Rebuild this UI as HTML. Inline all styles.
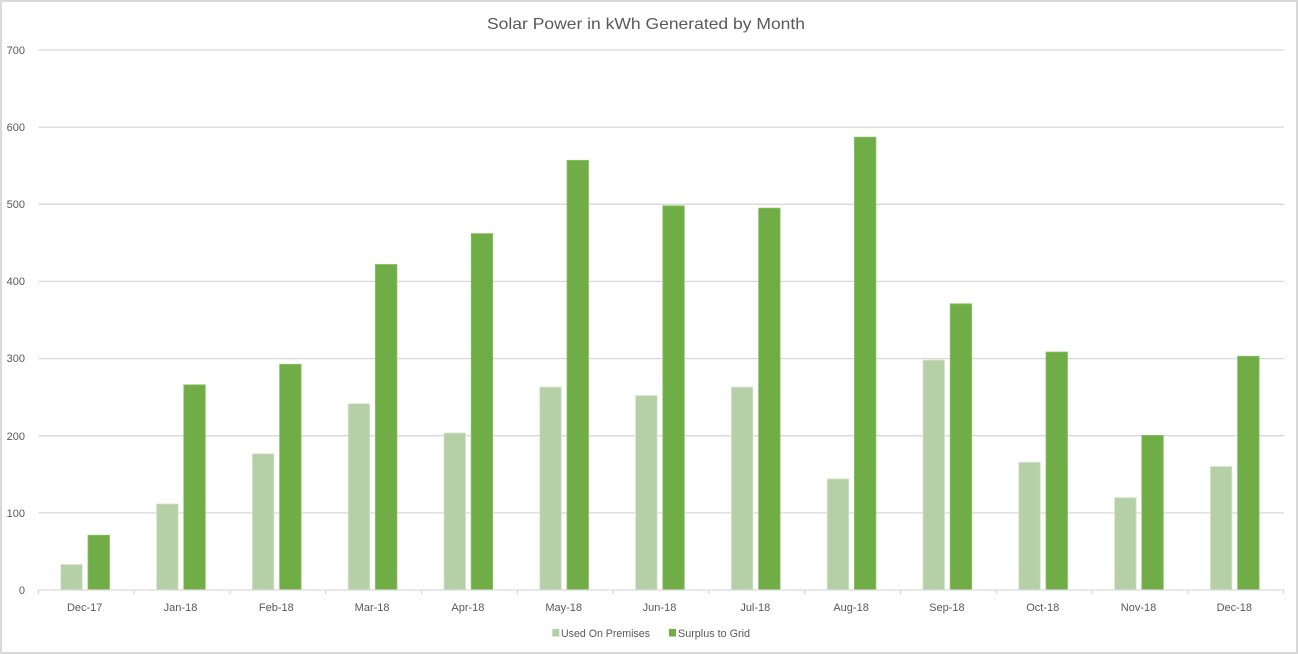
<!DOCTYPE html>
<html>
<head>
<meta charset="utf-8">
<style>
  html, body { margin: 0; padding: 0; background: #ffffff; }
  body { width: 1300px; height: 654px; overflow: hidden; }
  svg { display: block; }
  text { font-family: "Liberation Sans", Arial, sans-serif; fill: #595959; }
</style>
</head>
<body>
<svg width="1300" height="654" viewBox="0 0 1300 654" xmlns="http://www.w3.org/2000/svg">
  <rect x="0" y="0" width="1300" height="654" fill="#ffffff"/>
  <rect x="1" y="1" width="1296" height="652" fill="#ffffff" stroke="#d9d9d9" stroke-width="2"/>

  <!-- Title -->
  <text x="646" y="29" font-size="16" text-anchor="middle" textLength="318" lengthAdjust="spacingAndGlyphs">Solar Power in kWh Generated  by Month</text>

  <!-- Gridlines -->
  <g stroke="#d9d9d9" stroke-width="1.3">
    <line x1="38.3" y1="50" x2="1284" y2="50"/>
    <line x1="38.3" y1="127.1" x2="1284" y2="127.1"/>
    <line x1="38.3" y1="204.3" x2="1284" y2="204.3"/>
    <line x1="38.3" y1="281.4" x2="1284" y2="281.4"/>
    <line x1="38.3" y1="358.6" x2="1284" y2="358.6"/>
    <line x1="38.3" y1="435.7" x2="1284" y2="435.7"/>
    <line x1="38.3" y1="512.9" x2="1284" y2="512.9"/>
  </g>

  <!-- Y labels -->
  <g font-size="11" text-anchor="end">
    <text x="25" y="54">700</text>
    <text x="25" y="131">600</text>
    <text x="25" y="208">500</text>
    <text x="25" y="285">400</text>
    <text x="25" y="362">300</text>
    <text x="25" y="440">200</text>
    <text x="25" y="517">100</text>
    <text x="25" y="594">0</text>
  </g>

  <!-- Bars -->
  <g id="bars"></g>

  <!-- Axis -->
  <line x1="38.3" y1="590" x2="1284" y2="590" stroke="#d9d9d9" stroke-width="1.3"/>
  <g stroke="#d9d9d9" stroke-width="1.3" id="ticks"></g>

  <!-- X labels -->
  <g font-size="11" text-anchor="middle" id="xlabels"></g>

  <!-- Legend -->
  <rect x="552.3" y="629" width="7" height="7.5" fill="#b5cfa6"/>
  <text x="561" y="637" font-size="11" textLength="89" lengthAdjust="spacingAndGlyphs">Used On Premises</text>
  <rect x="669" y="629" width="7" height="7.5" fill="#70ad47"/>
  <text x="678" y="637" font-size="11" textLength="72" lengthAdjust="spacingAndGlyphs">Surplus to Grid</text>

  <script>
    (function(){
      var NS = "http://www.w3.org/2000/svg";
      var light = [33, 111.5, 176.5, 241.5, 203.5, 263, 252, 263, 144, 298, 165.5, 119.6, 160];
      var dark  = [71, 266, 292.6, 422, 462, 557, 498, 495, 587, 371, 308.5, 200.5, 303];
      var labels = ["Dec-17","Jan-18","Feb-18","Mar-18","Apr-18","May-18","Jun-18","Jul-18","Aug-18","Sep-18","Oct-18","Nov-18","Dec-18"];
      var x0 = 38.3, cw = 95.8, y0 = 590, k = 540/700, w = 21.5;
      var bars = document.getElementById("bars");
      var ticks = document.getElementById("ticks");
      var xl = document.getElementById("xlabels");
      function rect(x, v, fill, stroke){
        var r = document.createElementNS(NS, "rect");
        var h = v * k;
        r.setAttribute("x", x.toFixed(2));
        r.setAttribute("y", (y0 - h).toFixed(2));
        r.setAttribute("width", w);
        r.setAttribute("height", h.toFixed(2));
        r.setAttribute("fill", fill);
        r.setAttribute("stroke", stroke);
        r.setAttribute("stroke-width", "0.8");
        bars.appendChild(r);
      }
      for (var i = 0; i < 13; i++) {
        var cx = x0 + i * cw;
        rect(cx + 22.5, light[i], "#b5cfa6", "#d4e4ca");
        rect(cx + 49.7, dark[i], "#70ad47", "#8cc067");
        var t = document.createElementNS(NS, "text");
        t.setAttribute("x", (cx + cw/2 - 1.5).toFixed(2));
        t.setAttribute("y", "611");
        t.textContent = labels[i];
        xl.appendChild(t);
      }
      for (var j = 0; j <= 13; j++) {
        var lx = x0 + j * cw;
        var l = document.createElementNS(NS, "line");
        l.setAttribute("x1", lx.toFixed(2));
        l.setAttribute("x2", lx.toFixed(2));
        l.setAttribute("y1", "590");
        l.setAttribute("y2", "594");
        ticks.appendChild(l);
      }
    })();
  </script>
</svg>
</body>
</html>
